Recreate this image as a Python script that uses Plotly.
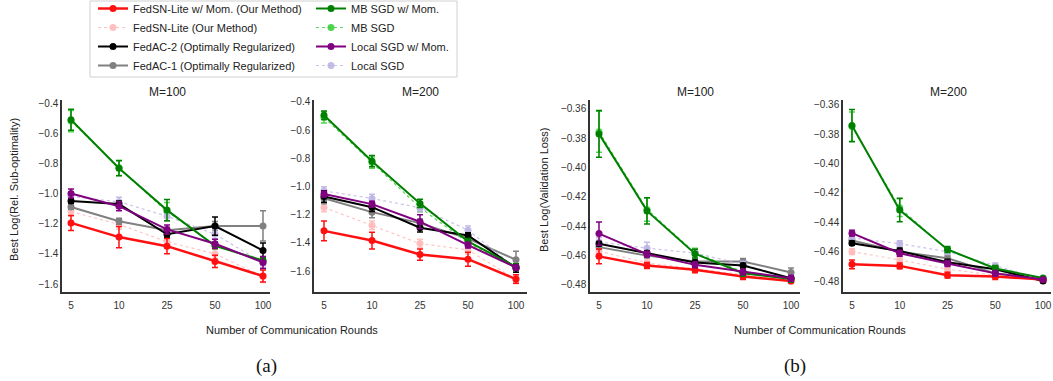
import plotly.graph_objects as go

W, H = 1053, 381

rounds = ["5", "10", "25", "50", "100"]

series_names = [
    "FedSN-Lite w/ Mom. (Our Method)",
    "FedSN-Lite (Our Method)",
    "FedAC-2 (Optimally Regularized)",
    "FedAC-1 (Optimally Regularized)",
    "MB SGD w/ Mom.",
    "MB SGD",
    "Local SGD w/ Mom.",
    "Local SGD",
]

# ---- (a) M=100 : Best Log(Rel. Sub-optimality)
a100_fedsn_mom = [-1.195, -1.289, -1.349, -1.450, -1.547]
a100_fedsn = [-1.120, -1.205, -1.320, -1.400, -1.550]
a100_fedac2 = [-1.049, -1.070, -1.270, -1.216, -1.378]
a100_fedac1 = [-1.089, -1.184, -1.244, -1.216, -1.215]
a100_mbsgd_mom = [-0.511, -0.833, -1.110, -1.347, -1.444]
a100_mbsgd = [-0.520, -0.830, -1.120, -1.340, -1.450]
a100_local_mom = [-1.000, -1.084, -1.238, -1.333, -1.457]
a100_local = [-1.020, -1.055, -1.150, -1.270, -1.460]
a100_err_fedsn_mom = [0.05, 0.07, 0.05, 0.04, 0.04]
a100_err_fedsn = [0.03, 0.03, 0.03, 0.03, 0.04]
a100_err_fedac2 = [0.015, 0.02, 0.02, 0.06, 0.05]
a100_err_fedac1 = [0.015, 0.02, 0.02, 0.03, 0.10]
a100_err_mbsgd_mom = [0.07, 0.05, 0.07, 0.02, 0.02]
a100_err_mbsgd = [0.07, 0.05, 0.06, 0.02, 0.02]
a100_err_local_mom = [0.03, 0.03, 0.03, 0.03, 0.04]
a100_err_local = [0.03, 0.03, 0.03, 0.03, 0.03]

# ---- (a) M=200
a200_fedsn_mom = [-1.315, -1.384, -1.483, -1.516, -1.657]
a200_fedsn = [-1.149, -1.275, -1.405, -1.450, -1.660]
a200_fedac2 = [-1.071, -1.147, -1.293, -1.348, -1.578]
a200_fedac1 = [-1.083, -1.182, -1.260, -1.370, -1.520]
a200_mbsgd_mom = [-0.494, -0.820, -1.120, -1.390, -1.570]
a200_mbsgd = [-0.510, -0.830, -1.150, -1.400, -1.580]
a200_local_mom = [-1.054, -1.125, -1.250, -1.416, -1.575]
a200_local = [-1.031, -1.085, -1.151, -1.310, -1.578]
a200_err_fedsn_mom = [0.07, 0.06, 0.04, 0.05, 0.03]
a200_err_fedsn = [0.03, 0.03, 0.03, 0.03, 0.03]
a200_err_fedac2 = [0.04, 0.03, 0.03, 0.02, 0.03]
a200_err_fedac1 = [0.04, 0.04, 0.03, 0.02, 0.06]
a200_err_mbsgd_mom = [0.03, 0.04, 0.03, 0.02, 0.02]
a200_err_mbsgd = [0.04, 0.04, 0.03, 0.02, 0.02]
a200_err_local_mom = [0.02, 0.02, 0.05, 0.02, 0.02]
a200_err_local = [0.03, 0.03, 0.03, 0.03, 0.02]

# ---- (b) M=100 : Best Log(Validation Loss)
b100_fedsn_mom = [-0.4605, -0.4667, -0.4697, -0.4743, -0.4773]
b100_fedsn = [-0.4570, -0.4650, -0.4690, -0.4730, -0.4777]
b100_fedac2 = [-0.4519, -0.4582, -0.4647, -0.4667, -0.4754]
b100_fedac1 = [-0.4542, -0.4600, -0.4640, -0.4640, -0.4715]
b100_mbsgd_mom = [-0.3770, -0.4295, -0.4587, -0.4720, -0.4760]
b100_mbsgd = [-0.3755, -0.4285, -0.4580, -0.4710, -0.4760]
b100_local_mom = [-0.4450, -0.4590, -0.4663, -0.4711, -0.4754]
b100_local = [-0.4507, -0.4549, -0.4583, -0.4659, -0.4754]
b100_err_fedsn_mom = [0.005, 0.002, 0.002, 0.002, 0.001]
b100_err_fedsn = [0.002, 0.002, 0.002, 0.002, 0.001]
b100_err_fedac2 = [0.0015, 0.0015, 0.0015, 0.0015, 0.0015]
b100_err_fedac1 = [0.0015, 0.0015, 0.002, 0.002, 0.003]
b100_err_mbsgd_mom = [0.016, 0.009, 0.003, 0.002, 0.002]
b100_err_mbsgd = [0.014, 0.008, 0.003, 0.002, 0.002]
b100_err_local_mom = [0.008, 0.002, 0.002, 0.002, 0.002]
b100_err_local = [0.003, 0.004, 0.002, 0.002, 0.002]

# ---- (b) M=200
b200_fedsn_mom = [-0.4686, -0.4697, -0.4760, -0.4770, -0.4790]
b200_fedsn = [-0.4600, -0.4656, -0.4720, -0.4760, -0.4790]
b200_fedac2 = [-0.4542, -0.4595, -0.4672, -0.4720, -0.4800]
b200_fedac1 = [-0.4524, -0.4600, -0.4645, -0.4748, -0.4790]
b200_mbsgd_mom = [-0.3740, -0.4316, -0.4585, -0.4715, -0.4780]
b200_mbsgd = [-0.3747, -0.4300, -0.4590, -0.4710, -0.4785]
b200_local_mom = [-0.4474, -0.4611, -0.4681, -0.4748, -0.4790]
b200_local = [-0.4506, -0.4546, -0.4600, -0.4697, -0.4790]
b200_err_fedsn_mom = [0.003, 0.002, 0.002, 0.002, 0.001]
b200_err_fedsn = [0.002, 0.002, 0.002, 0.002, 0.001]
b200_err_fedac2 = [0.0015, 0.002, 0.002, 0.002, 0.001]
b200_err_fedac1 = [0.0015, 0.002, 0.002, 0.003, 0.001]
b200_err_mbsgd_mom = [0.011, 0.008, 0.002, 0.002, 0.001]
b200_err_mbsgd = [0.010, 0.006, 0.002, 0.002, 0.001]
b200_err_local_mom = [0.002, 0.002, 0.002, 0.002, 0.001]
b200_err_local = [0.002, 0.002, 0.002, 0.002, 0.001]

panel_titles = ["M=100", "M=200", "M=100", "M=200"]
a_ticks = [-1.6, -1.4, -1.2, -1.0, -0.8, -0.6, -0.4]
b_ticks = [-0.48, -0.46, -0.44, -0.42, -0.40, -0.38, -0.36]

panels = [
    ([a100_fedsn_mom, a100_fedsn, a100_fedac2, a100_fedac1, a100_mbsgd_mom, a100_mbsgd, a100_local_mom, a100_local],
     [a100_err_fedsn_mom, a100_err_fedsn, a100_err_fedac2, a100_err_fedac1, a100_err_mbsgd_mom, a100_err_mbsgd, a100_err_local_mom, a100_err_local]),
    ([a200_fedsn_mom, a200_fedsn, a200_fedac2, a200_fedac1, a200_mbsgd_mom, a200_mbsgd, a200_local_mom, a200_local],
     [a200_err_fedsn_mom, a200_err_fedsn, a200_err_fedac2, a200_err_fedac1, a200_err_mbsgd_mom, a200_err_mbsgd, a200_err_local_mom, a200_err_local]),
    ([b100_fedsn_mom, b100_fedsn, b100_fedac2, b100_fedac1, b100_mbsgd_mom, b100_mbsgd, b100_local_mom, b100_local],
     [b100_err_fedsn_mom, b100_err_fedsn, b100_err_fedac2, b100_err_fedac1, b100_err_mbsgd_mom, b100_err_mbsgd, b100_err_local_mom, b100_err_local]),
    ([b200_fedsn_mom, b200_fedsn, b200_fedac2, b200_fedac1, b200_mbsgd_mom, b200_mbsgd, b200_local_mom, b200_local],
     [b200_err_fedsn_mom, b200_err_fedsn, b200_err_fedac2, b200_err_fedac1, b200_err_mbsgd_mom, b200_err_mbsgd, b200_err_local_mom, b200_err_local]),
]

# ---- styles
styles = [
    dict(color="#ff1010", mcolor="#ff1010", dash="solid", width=2.5, legend="legend"),
    dict(color="rgba(255,150,150,0.55)", mcolor="rgba(255,185,185,0.9)", dash="dot", width=1.2, legend="legend"),
    dict(color="#000000", mcolor="#000000", dash="solid", width=2, legend="legend"),
    dict(color="#808080", mcolor="#808080", dash="solid", width=2, legend="legend"),
    dict(color="#008000", mcolor="#008000", dash="solid", width=2, legend="legend2"),
    dict(color="rgba(50,205,50,0.8)", mcolor="rgba(50,205,50,0.85)", dash="dot", width=1.2, legend="legend2"),
    dict(color="#800080", mcolor="#800080", dash="solid", width=2, legend="legend2"),
    dict(color="rgba(185,175,225,0.75)", mcolor="rgba(190,180,228,0.9)", dash="dot", width=1.2, legend="legend2"),
]
draw_order = [1, 3, 5, 7, 2, 0, 4, 6]

def px_x(p):
    return p / W

def px_y(p):
    return 1 - p / H

x_domains = [(62, 270), (314, 527), (590, 800), (843, 1051)]
x_ranges = [(-9 / 48, 4 + 7 / 48), (-10 / 48, 4 + 11 / 48), (-9 / 48, 4 + 9 / 48), (-9 / 48, 4 + 8 / 48)]
y_ranges = [(-1.653, -0.380), (-1.749, -0.386), (-0.4848, -0.3539), (-0.4875, -0.3566)]
title_x = [167, 420, 695, 948]
y_dom = [px_y(292), px_y(100)]

fig = go.Figure()
for pi, (vals, errs) in enumerate(panels):
    xa = "x" if pi == 0 else f"x{pi+1}"
    ya = "y" if pi == 0 else f"y{pi+1}"
    for si in draw_order:
        st = styles[si]
        fig.add_trace(go.Scatter(
            x=rounds, y=vals[si], xaxis=xa, yaxis=ya,
            mode="lines+markers",
            name=series_names[si],
            legend=st["legend"],
            legendrank=si + 1,
            showlegend=(pi == 0),
            line=dict(color=st["color"], width=st["width"], dash=st["dash"]),
            marker=dict(color=st["mcolor"], size=7, symbol="circle"),
            error_y=dict(type="data", array=errs[si], visible=True,
                         color=st["mcolor"], thickness=1.5, width=3),
        ))

tick_font = dict(family="Liberation Sans Narrow, Liberation Sans, Arial, sans-serif", size=10, color="#333333")
layout = dict(
    width=W, height=H,
    margin=dict(l=0, r=0, t=0, b=0, autoexpand=False),
    paper_bgcolor="white", plot_bgcolor="white",
    showlegend=True,
    font=dict(family="Liberation Sans, Arial, sans-serif", color="#222222"),
)
for pi in range(4):
    sx = "xaxis" if pi == 0 else f"xaxis{pi+1}"
    sy = "yaxis" if pi == 0 else f"yaxis{pi+1}"
    ya = "y" if pi == 0 else f"y{pi+1}"
    xa = "x" if pi == 0 else f"x{pi+1}"
    layout[sx] = dict(
        domain=[px_x(x_domains[pi][0]), px_x(x_domains[pi][1])],
        anchor=ya, type="category", range=list(x_ranges[pi]),
        showline=True, linecolor="#333333", linewidth=1.5,
        showgrid=False, zeroline=False,
        ticks="outside", ticklen=3, tickcolor="rgba(0,0,0,0)",
        tickfont=tick_font,
    )
    ticks = a_ticks if pi < 2 else b_ticks
    layout[sy] = dict(
        domain=y_dom, anchor=xa, range=list(y_ranges[pi]),
        showline=True, linecolor="#333333", linewidth=1.5,
        showgrid=False, zeroline=False,
        tickvals=ticks, tickformat=".1f" if pi < 2 else ".2f",
        ticks="", tickfont=tick_font,
    )

annotations = []
for pi in range(4):
    annotations.append(dict(text=panel_titles[pi], x=px_x(title_x[pi]), y=px_y(92),
                            xref="paper", yref="paper", showarrow=False,
                            xanchor="center", yanchor="middle",
                            font=dict(size=12, color="#222222")))
annotations += [
    dict(text="Best Log(Rel. Sub-optimality)", x=px_x(14), y=px_y(190), xref="paper", yref="paper",
         textangle=-90, showarrow=False, xanchor="center", yanchor="middle", font=dict(size=11, color="#222222")),
    dict(text="Best Log(Validation Loss)", x=px_x(544), y=px_y(190), xref="paper", yref="paper",
         textangle=-90, showarrow=False, xanchor="center", yanchor="middle", font=dict(size=11, color="#222222")),
    dict(text="Number of Communication Rounds", x=px_x(292), y=px_y(330), xref="paper", yref="paper",
         showarrow=False, xanchor="center", yanchor="middle", font=dict(size=11, color="#222222")),
    dict(text="Number of Communication Rounds", x=px_x(820), y=px_y(330), xref="paper", yref="paper",
         showarrow=False, xanchor="center", yanchor="middle", font=dict(size=11, color="#222222")),
    dict(text="(a)", x=px_x(266), y=px_y(366), xref="paper", yref="paper",
         showarrow=False, xanchor="center", yanchor="middle",
         font=dict(family="Liberation Serif, Times New Roman, serif", size=19, color="#111111")),
    dict(text="(b)", x=px_x(795), y=px_y(366), xref="paper", yref="paper",
         showarrow=False, xanchor="center", yanchor="middle",
         font=dict(family="Liberation Serif, Times New Roman, serif", size=19, color="#111111")),
]
layout["annotations"] = annotations

legend_font = dict(family="Liberation Sans, Arial, sans-serif", size=11, color="#222222")
layout["legend"] = dict(x=px_x(93), y=1 + 6 / H, xanchor="left", yanchor="top", orientation="v",
                        bgcolor="rgba(0,0,0,0)", borderwidth=0, font=legend_font,
                        tracegroupgap=0, itemwidth=30)
layout["legend2"] = dict(x=px_x(311), y=1 + 6 / H, xanchor="left", yanchor="top", orientation="v",
                         bgcolor="rgba(0,0,0,0)", borderwidth=0, font=legend_font,
                         tracegroupgap=0, itemwidth=30)
layout["shapes"] = [dict(type="rect", xref="paper", yref="paper",
                         x0=px_x(90), x1=px_x(457), y0=px_y(77), y1=px_y(1),
                         line=dict(color="#d0d0d0", width=1), fillcolor="rgba(255,255,255,0)",
                         layer="below")]

fig.update_layout(**layout)
fig.write_html("out.html",
               config={"displayModeBar": False},
               post_script="document.body.style.margin='0';document.body.style.overflow='hidden';")
